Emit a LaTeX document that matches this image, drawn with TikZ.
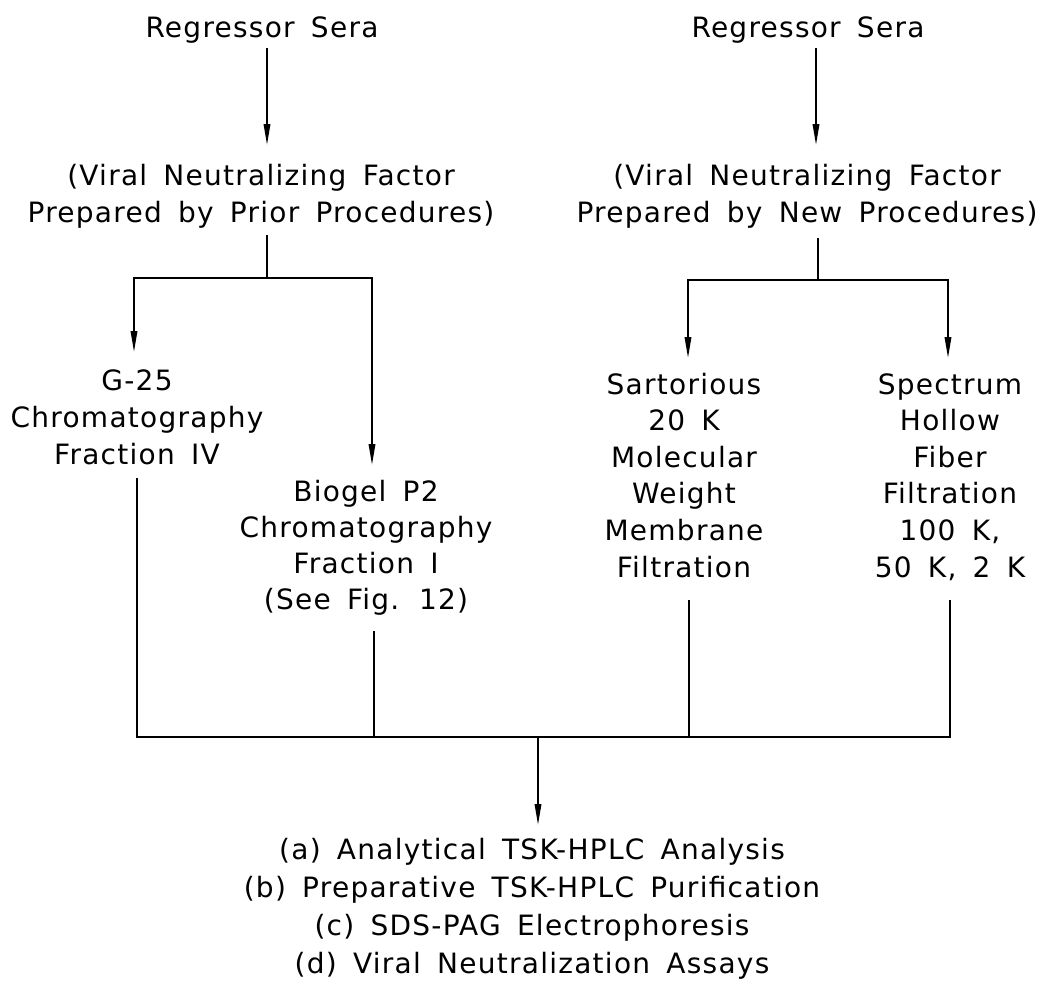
\documentclass[tikz,border=0pt]{standalone}
\usepackage{fontspec}
\newfontfamily\plotfont[LetterSpace=4.5,WordSpace=1.6]{DejaVu Sans}
\usetikzlibrary{arrows.meta}
\begin{document}
\begin{tikzpicture}[x=1pt,y=-1pt,
  lbl/.style={font=\plotfont\fontsize{28}{37}\selectfont, align=center, anchor=base, inner sep=0pt},
  conn/.style={line width=1.8pt},
  arr/.style={conn, -{Triangle[length=21pt,width=6.5pt]}}]
\useasboundingbox (0,0) rectangle (1050,985);
% text nodes (anchor = baseline of the last line)
\node[lbl] (rsL) at (262,37) {Regressor Sera};
\node[lbl] (vfL) at (261,222) {(Viral Neutralizing Factor\\Prepared by Prior Procedures)};
\node[lbl] (rsR) at (808,37) {Regressor Sera};
\node[lbl] (vfR) at (807,222) {(Viral Neutralizing Factor\\Prepared by New Procedures)};
\node[lbl] (g25) at (137,464) {G-25\\Chromatography\\Fraction IV};
\node[lbl, font=\plotfont\fontsize{28}{36}\selectfont] (bio) at (366,609) {Biogel P2\\Chromatography\\Fraction I\\(See Fig. 12)};
\node[lbl, font=\plotfont\fontsize{28}{36.6}\selectfont] (sar) at (684,577) {Sartorious\\20 K\\Molecular\\Weight\\Membrane\\Filtration};
\node[lbl, font=\plotfont\fontsize{28}{36.6}\selectfont] (spe) at (950,577) {Spectrum\\Hollow\\Fiber\\Filtration\\100 K,\\50 K, 2 K};
\node[lbl, font=\plotfont\fontsize{28}{38}\selectfont] (out) at (532,973)
  {(a) Analytical TSK-HPLC Analysis\\(b) Preparative TSK-HPLC Purification\\(c) SDS-PAG Electrophoresis\\(d) Viral Neutralization Assays};
% connector end points
\coordinate (rsLb) at (267,48);
\coordinate (vfLt) at (267,145);
\coordinate (vfLb) at (267,235);
\coordinate (jL) at (267,278);
\coordinate (g25t) at (134,352);
\coordinate (bioT) at (372,465);
\coordinate (rsRb) at (816,48);
\coordinate (vfRt) at (816,145);
\coordinate (vfRb) at (818,238);
\coordinate (jR) at (818,280);
\coordinate (sarT) at (688,358);
\coordinate (speT) at (948,358);
\coordinate (g25b) at (137,478);
\coordinate (bioB) at (374,631);
\coordinate (sarB) at (689,600);
\coordinate (speB) at (950,600);
\coordinate (jB) at (538,737);
\coordinate (outT) at (538,825);
% connectors
\draw[arr] (rsLb) -- (vfLt);
\draw[conn] (vfLb) -- (jL);
\draw[arr] (jL) -| (g25t);
\draw[arr] (jL) -| (bioT);
\draw[arr] (rsRb) -- (vfRt);
\draw[conn] (vfRb) -- (jR);
\draw[arr] (jR) -| (sarT);
\draw[arr] (jR) -| (speT);
\draw[conn] (g25b) |- (jB);
\draw[conn] (speB) |- (jB);
\draw[conn] (bioB) -- (bioB |- jB);
\draw[conn] (sarB) -- (sarB |- jB);
\draw[arr] (jB) -- (outT);
\end{tikzpicture}
\end{document}
